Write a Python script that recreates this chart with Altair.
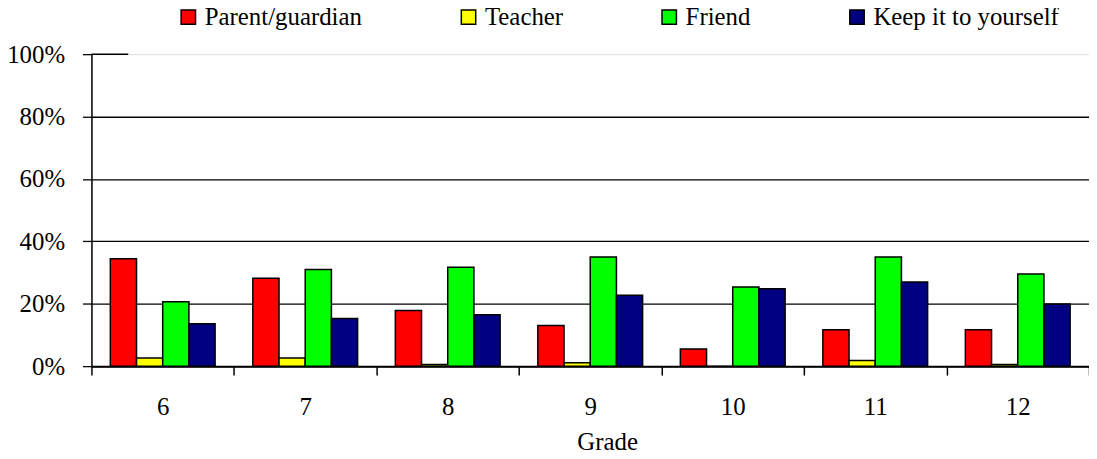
import altair as alt
import pandas as pd

grades = ["6", "7", "8", "9", "10", "11", "12"]
responses = ["Parent/guardian", "Teacher", "Friend", "Keep it to yourself"]
colors = ["#FF0000", "#FFFF00", "#00FF00", "#000080"]

parent = [34.4, 28.2, 17.8, 13.0, 5.5, 11.7, 11.7]
teacher = [2.6, 2.6, 0.5, 1.1, 0.0, 1.8, 0.5]
friend = [20.6, 31.0, 31.7, 35.0, 25.4, 35.0, 29.5]
keep = [13.6, 15.3, 16.5, 22.7, 24.8, 27.0, 19.9]

y_ticks = [0, 0.2, 0.4, 0.6, 0.8, 1.0]

series = [parent, teacher, friend, keep]
rows = []
for resp, vals in zip(responses, series):
    for g, v in zip(grades, vals):
        rows.append({"grade": g, "response": resp, "value": v / 100.0})
df = pd.DataFrame(rows)

FONT = "Liberation Serif"

bars = alt.Chart(df).mark_bar(stroke="black", strokeWidth=1.5).encode(
    x=alt.X(
        "grade:N",
        sort=grades,
        scale=alt.Scale(paddingInner=0, paddingOuter=0),
        axis=alt.Axis(
            title="Grade",
            labelAngle=0,
            tickBand="extent",
            ticks=True,
            tickSize=9,
            tickColor="black",
            tickWidth=1.5,
            domainColor="black",
            domainWidth=2,
            labelFont=FONT,
            labelFontSize=25,
            labelColor="black",
            labelPadding=20,
            titleFont=FONT,
            titleFontSize=25,
            titleFontWeight="normal",
            titleColor="black",
            titleX=519,
            titleY=84,
            titleAlign="center",
            titleBaseline="alphabetic",
            grid=False,
        ),
    ),
    xOffset=alt.XOffset(
        "response:N", sort=responses,
        scale=alt.Scale(paddingInner=0, paddingOuter=0.72),
    ),
    y=alt.Y(
        "value:Q",
        scale=alt.Scale(domain=[0, 1], nice=False),
        axis=alt.Axis(
            title=None,
            format=".0%",
            values=y_ticks,
            tickSize=9,
            tickColor="black",
            tickWidth=1.3,
            domainColor="black",
            domainWidth=1.5,
            labelFont=FONT,
            labelFontSize=25,
            labelColor="black",
            labelPadding=18,
            grid=True,
            gridColor="black",
            gridWidth=1.3,
            gridOpacity={"condition": {"test": "datum.value >= 1", "value": 0}, "value": 1},
        ),
    ),
    color=alt.Color(
        "response:N",
        sort=responses,
        scale=alt.Scale(domain=responses, range=colors),
        legend=alt.Legend(
            title=None,
            orient="none",
            legendX=85,
            legendY=-50,
            direction="horizontal",
            columns=4,
            columnPadding=94,
            symbolType="square",
            symbolSize=210,
            symbolStrokeColor="black",
            symbolStrokeWidth=1.5,
            symbolOpacity=1,
            labelFont=FONT,
            labelFontSize=25,
            labelColor="black",
            labelOffset=4,
            labelLimit=400,
            padding=0,
        ),
    ),
)

top_line = alt.Chart(pd.DataFrame({"v": [1.0]})).mark_rule(
    color="black", strokeWidth=1.5
).encode(
    y=alt.Y("v:Q"),
    x=alt.value(0),
    x2=alt.value(37),
)

chart = alt.layer(bars, top_line).properties(
    width=1004,
    height=314,
    autosize=alt.AutoSizeParams(type="none"),
    padding={"left": 84, "top": 45, "right": 0, "bottom": 90},
).configure_view(stroke=None).configure(background="white")

chart.save("out.html", embed_options={"renderer": "svg", "actions": False})
